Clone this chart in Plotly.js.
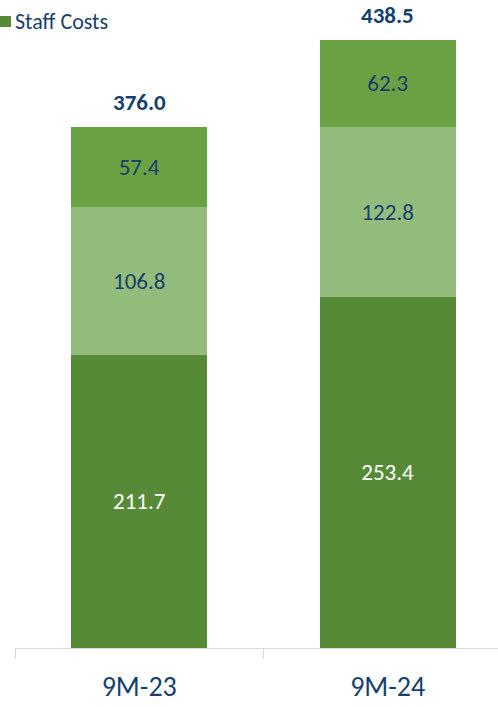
<!DOCTYPE html>
<html>
<head>
<meta charset="utf-8">
<script src="https://cdn.plot.ly/plotly-3.0.1.min.js"></script>
<style>
  html, body { margin: 0; padding: 0; background: #ffffff; }
  #chart { width: 498px; height: 707px; }
</style>
</head>
<body>
<div id="chart"></div>
<script>
// Periods and cost components (EUR m)
const periods = ['9M-23', '9M-24'];
const staffCosts = [211.7, 253.4];
const middleCosts = [106.8, 122.8];
const topCosts = [57.4, 62.3];
const totals = [376.0, 438.5];

const FONT = 'Carlito, Calibri, Lato, "Open Sans", sans-serif';
const NAVY = '#163F6E';
const COL_BOTTOM = '#578A37';
const COL_MIDDLE = '#93BB7B';
const COL_TOP = '#6AA142';

const MARGIN = { l: 15, r: 0, t: 0, b: 59 };
const W = 498, H = 707;

function fmt(v) { return v.toFixed(1); }

function segment(name, values, color, textColor) {
  return {
    type: 'bar',
    name: name,
    x: periods,
    y: values,
    marker: { color: color, line: { width: 0 } },
    text: values.map(fmt),
    textposition: 'inside',
    insidetextanchor: 'middle',
    textangle: 0,
    constraintext: 'none',
    insidetextfont: { family: FONT, size: 23, color: textColor },
    hoverinfo: 'skip',
    width: 0.548,
    showlegend: false
  };
}

const traces = [
  segment('Staff Costs', staffCosts, COL_BOTTOM, '#ffffff'),
  segment('Segment 2', middleCosts, COL_MIDDLE, NAVY),
  segment('Segment 3', topCosts, COL_TOP, NAVY)
];

// Totals above each stack
const totalLabels = periods.map((p, i) => ({
  x: p,
  y: totals[i],
  xref: 'x',
  yref: 'y',
  text: '<b>' + fmt(totals[i]) + '</b>',
  showarrow: false,
  yanchor: 'bottom',
  yshift: 9,
  font: { family: FONT, size: 23, color: NAVY }
}));

// Pixel -> paper helpers for the legend entry
const plotW = W - MARGIN.l - MARGIN.r;
const plotH = H - MARGIN.t - MARGIN.b;
const px = (x) => (x - MARGIN.l) / plotW;
const py = (y) => 1 - (y - MARGIN.t) / plotH;

const legendText = {
  x: px(13), y: py(21),
  xref: 'paper', yref: 'paper',
  text: 'Staff Costs',
  showarrow: false,
  xanchor: 'left',
  yanchor: 'middle',
  font: { family: FONT, size: 22, color: NAVY }
};

const legendSwatch = {
  type: 'rect', xref: 'paper', yref: 'paper',
  x0: px(0), x1: px(11), y0: py(16), y1: py(27),
  fillcolor: COL_BOTTOM, line: { width: 0 }
};

const layout = {
  width: W,
  height: H,
  margin: MARGIN,
  paper_bgcolor: '#ffffff',
  plot_bgcolor: '#ffffff',
  barmode: 'stack',
  showlegend: false,
  xaxis: {
    type: 'category',
    range: [-0.5, 1.444],
    tickson: 'boundaries',
    ticks: 'outside',
    ticklen: 10,
    tickwidth: 1,
    tickcolor: '#D9D9D9',
    ticklabelstandoff: 13,
    showline: true,
    linecolor: '#D9D9D9',
    linewidth: 1,
    showgrid: false,
    zeroline: false,
    tickfont: { family: FONT, size: 28, color: NAVY },
    fixedrange: true
  },
  yaxis: {
    range: [0, 467.5],
    visible: false,
    showgrid: false,
    zeroline: false,
    fixedrange: true
  },
  annotations: totalLabels.concat([legendText]),
  shapes: [legendSwatch]
};

Plotly.newPlot('chart', traces, layout, { displayModeBar: false, staticPlot: true });
</script>
</body>
</html>
